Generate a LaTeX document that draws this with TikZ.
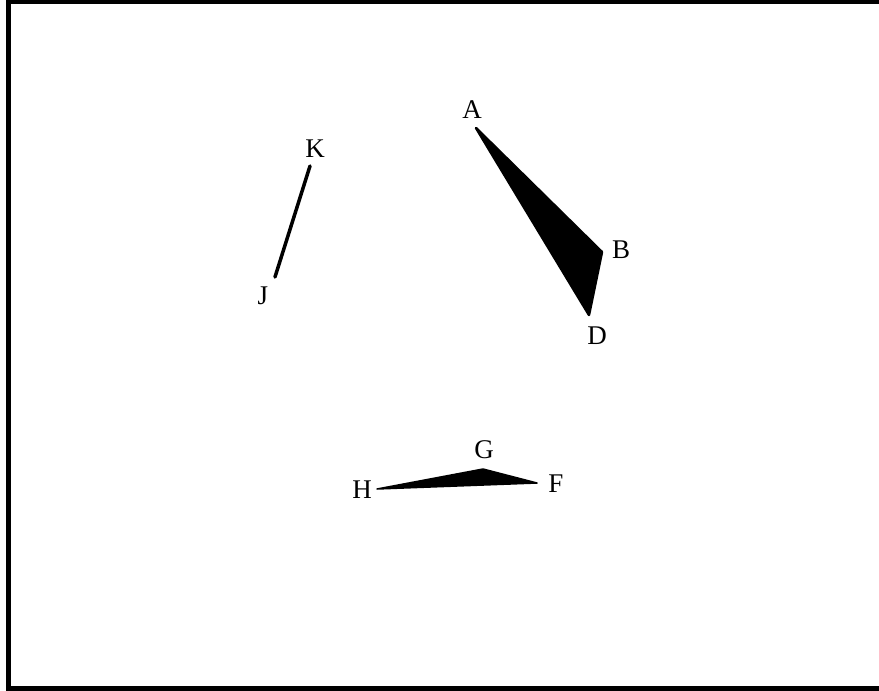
\documentclass[tikz,border=0pt]{standalone}
\usepackage{fontspec}
\setmainfont{Liberation Serif}
\begin{document}
\begin{tikzpicture}[x=1pt, y=-1pt, every node/.style={font=\fontsize{27}{27}\selectfont, inner sep=0pt, anchor=base},
  solid poly/.style={draw, fill=black, line width=2.5pt, line join=round, line cap=round}]
\useasboundingbox (0,0) rectangle (879,691);
% frame, right side cut off
\draw[line width=5pt] (879,1.5) -- (8.5,1.5) -- (8.5,688.5) -- (879,688.5);
% vertices
\coordinate (A) at (476,128); \coordinate (B) at (602,252); \coordinate (D) at (589,315);
\coordinate (K) at (310,166); \coordinate (J) at (275,277);
\coordinate (G) at (483,469); \coordinate (H) at (377,489); \coordinate (F) at (537,483);
% labels
\node (lA) at (472,118) {A}; \node (lB) at (621,258) {B}; \node (lD) at (597,344) {D};
\node (lK) at (315,157) {K}; \node (lJ) at (263,304) {J};
\node (lG) at (484,458) {G}; \node (lH) at (362,498) {H}; \node (lF) at (556,492) {F};
% shapes
\draw[solid poly] (A) -- (B) -- (D) -- cycle;
\draw[line width=3.5pt, line cap=round] (K) -- (J);
\draw[solid poly, line width=1.5pt] (H) -- (G) -- (F) -- cycle;
\end{tikzpicture}
\end{document}
